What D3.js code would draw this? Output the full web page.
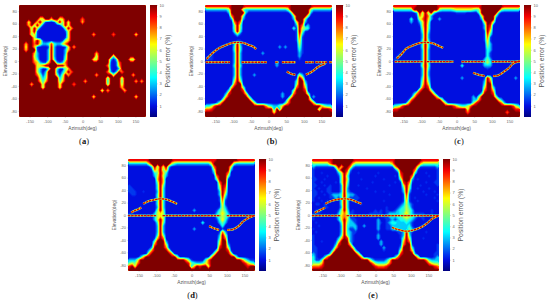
<!DOCTYPE html>
<html><head><meta charset="utf-8">
<script src="https://cdn.jsdelivr.net/npm/d3@7"></script>
<style>html,body{margin:0;background:#fff}svg{display:block}</style>
</head><body><svg id="c" width="550" height="302"></svg>
<script>
// Position error (%) by elevation row (+87.5 to -87.5 deg, 5 deg steps) and azimuth column (-176 to +176 deg, 8 deg steps). 'a' = 10, '2' = about 1.6.
const B="aaaaa aaaaa aaaaa aaaaa aaaaa aaaaa aaaaa aaaaa aaaaa";
const panelA=[B,B,B,B,
"aaaaa aa66a a7aa6 7aaaa aa8aa aaaaa aaaaa aaaaa aaaaa",
"aaa6a a7a62 1126a 5a6aa aa7aa aaaaa aaaaa aaaaa aaaaa",
"aaa7a 5a621 11112 5a6aa aaaaa aaaaa aaaaa aaaaa aaaaa",
"aaaa5 a6211 11111 15a7a aaaaa aaaaa aaaaa aaaaa aaaaa",
"aaaa6 a2111 11111 126aa aaaaa aaaaa aaaaa aaaaa aaaaa",
"aaaa5 72111 11111 116aa aaaaa a7aaa aaa8a aaaaa a6aaa",
"aaaaa 62111 11111 126aa aaaaa aaaaa aaaaa aaaaa aaaaa",
"aaaaa 7a721 11111 267aa aaaaa aaaaa aaaaa aaaaa aaaaa",
"aa7aa 8a633 49433 68aaa aaaaa aaaaa aaaaa aaaaa aaaaa",
"aa6aa 72111 2a311 126a7 aaaaa aaaaa aaaaa aaaaa aaaaa",
"aa7aa a2111 3a311 137aa aaaaa aaaaa aaaaa aaaaa aaaaa",
"aaaaa 73111 3a311 13aaa aaaaa aa7aa aaaaa aaaaa aaaaa",
"aaaaa 63111 3a311 14aaa aaaaa aa5aa aaa4a aaaaa aaaaa",
"aaaaa 74111 3a411 15aaa aaaaa a66aa aa313 aaaa6 5aaaa",
"aaaaa 87322 7aa32 38aaa aaaaa aaaaa aa212 8aaaa aaaaa",
"aaaaa a678a aaaaa a7aaa aaaaa aaaaa a8212 7aaaa aaaaa",
"aaaaa a6311 4aa41 157aa aaaaa aaaaa aa211 3aaaa aaaaa",
"aaaaa a6313 aaa31 36a8a aaaaa aaaaa a8313 a8aaa aaaaa",
"aaaaa a8524 aaa52 5a7aa aaaaa aa7aa aaa5a aaaaa 7aaaa",
"aaaaa aa635 aaaa3 6aaaa aaaaa aaaaa a4aaa a5aaa aaaaa",
"aaaaa aa747 aaaa4 7aaaa aaa7a aaaaa a3aaa a4aaa a7a7a",
"aaaa7 aaa5a aaaa6 aaaa8 aaaaa aaaaa a4aaa a5aaa aaaaa",
"aaaaa aaa5a aaaa6 aaaaa aaaaa aaaaa aaaaa a7aaa aaaaa",
"aaaaa aaaaa aaaaa aaaaa aaaaa aaaa5 a7aaa aa7aa aaaaa",
B,
"aaaaa aaaaa aaaaa aaaaa aaaaa a6aaa aaaaa aaaaa a6aaa",
B,B,B,B,B,B];
const panelB=[
"99999 9999a aaaa9 99999 99999 99999 aaaaa aaa99 99999",
"33333 3335a aaa53 33333 33333 33335 aaaaa aa533 33333",
"11111 1113a aaaa3 11111 11111 11111 4aaaa aa311 11111",
"11111 11118 aaa51 11111 11111 11111 15aaa a5111 11111",
"11111 11113 aaa31 11111 11111 11111 13aaa 51111 11111",
"11111 11111 8a811 11111 11111 11111 116aa 31111 11111",
"11111 11111 5a511 11111 11111 11111 113a8 13111 11111",
"11111 11111 5a511 11111 11111 11111 142a6 54111 11111",
"11111 11111 4a411 11111 11111 11111 112a5 21111 11111",
"11111 11111 24211 11111 11111 11111 11293 11111 11111",
"11111 11111 11111 11111 11111 11111 11282 11111 11111",
"11111 11111 12211 11111 11111 11111 11272 11111 11111",
"11111 11111 3a311 11111 11111 11111 11162 11111 11111",
"11111 11111 4a411 11111 11111 13131 11152 11111 11111",
"11111 11111 4a411 11111 11111 11111 11142 11111 11111",
"11211 11111 3a311 11111 31111 11111 11132 11111 11111",
"12211 11111 3a311 11111 11111 11111 11131 11111 11111",
"22211 11111 3a311 11111 11111 11111 11121 11111 11111",
"11111 11111 3a311 11111 11111 31111 11111 11111 11111",
"11111 11111 4a411 11111 11111 31111 11111 11111 11111",
"11111 11111 3a311 11111 11111 11111 11111 11111 11111",
"11111 11111 3a311 11111 11111 11111 11111 11111 11111",
"11111 11111 3a311 11311 11111 11111 11163 11111 11111",
"11111 11111 4a411 11111 11111 11111 112a7 11111 11111",
"11111 11111 6a611 11111 11111 11111 114aa 31111 11111",
"11111 11112 8aa21 11111 11111 11111 115aa 51111 11111",
"11111 11117 aaa51 11111 11111 11111 118aa 71111 11111",
"11111 1114a aaa92 11111 11111 11111 15aaa 91111 11111",
"11111 1139a aaaa7 11111 11111 11311 18aaa a5111 11111",
"11111 127aa aaaaa 51111 11111 11311 6aaaa aa131 11111",
"11111 16aaa aaaaa a5111 11111 11116 aaaaa aa611 11111",
"11113 7aaaa aaaaa aa621 11111 11148 aaaaa aaa72 11111",
"4469a aaaaa aaaaa aaaaa a8543 357aa aaaaa aaaaa a7544",
"889aa aaaaa aaaaa aaaaa aaaa3 a3aaa aaaaa aaaaa 4aaa9",
"aaaaa aaaaa aaaaa aaaaa aaaa6 aaaaa aaaaa aaaaa aaaaa",
B];
const panelC=[
"99999 999aa aaaaa a9999 99999 99999 9aaaa aaaa9 99999",
"44444 44aaa aaaaa a5444 45666 66654 5aaaa aaa54 44444",
"11111 1113a 5a5a4 21111 11222 21111 4aaaa aa311 11111",
"11111 11128 6a831 11111 11111 11111 16aaa a4111 11111",
"11111 14116 8a731 13111 11111 11111 13aaa a2111 11111",
"11111 13113 6a611 11111 11111 11111 116aa 61111 11111",
"11111 11112 6a511 11111 11111 11111 113a9 21111 11111",
"11111 11111 5a511 11111 11111 11111 113a8 11111 11111",
"11111 11111 4a411 11111 11111 11111 112a6 11111 11111",
"11111 11111 3a311 11111 11111 11111 11294 11111 11111",
"11111 11111 3a311 11111 11111 11111 11282 11111 11111",
"11111 11111 4a411 11111 11111 11111 11272 11111 11111",
"11111 11111 4a411 11111 11111 11111 11163 11111 11111",
"11111 11111 4a411 11111 11111 11111 11153 11111 11111",
"11111 11111 3a311 11111 11111 11111 11143 11111 11111",
"11211 11111 3a311 11111 11111 11111 11142 11111 11111",
"12211 11111 3a311 11111 11111 11111 11142 11111 11111",
"22111 11111 3a311 11111 11111 11111 11353 11111 11111",
"11111 11111 4a411 11111 11111 11111 11464 11111 11111",
"11111 11111 5a511 11111 11114 11111 11333 11111 11111",
"11111 11111 3a411 11111 11111 11111 11121 11111 11111",
"11111 11111 3a311 11111 11111 11111 11111 11111 11111",
"11111 11111 3a311 11111 11111 11111 11111 11111 11111",
"11111 11111 4a411 11111 11113 11111 112a6 11111 11131",
"11111 11111 5a511 11111 11111 11111 113a8 11111 11111",
"11111 11111 6a711 11111 11111 11111 114aa 21111 11111",
"11111 11112 8a921 11111 11111 11111 116aa 41111 11111",
"11111 11118 aaa61 11111 11111 11111 118aa 71111 11111",
"11111 1138a aaaa6 11111 11111 11111 14aaa 92111 11111",
"11111 127aa aaaaa 72111 11111 11131 5aaaa a5111 11111",
"11111 28aaa aaaaa aa511 11111 11133 8aaaa aa631 11111",
"11112 7aaaa aaaaa aaa62 11111 11159 aaaaa aaa83 11111",
"4569a aaaaa aaaaa aaaaa a9754 468aa aaaaa aaaaa aa964",
"99aaa aaaaa aaaaa aaaaa aaaaa a6aaa aaaaa aaaaa aaa99",
"aaaaa aaaaa aaaaa aaaaa aaaaa a8aaa aaaaa aaaaa 8aaaa",
B];
const panelD=[
"99999 99aaa aaaaa a9999 99999 99999 9aaaa aaaa9 99999",
"33333 337aa aaaaa 64333 33333 33336 aaaaa aa533 33333",
"11111 1114a 5a6a3 11111 11111 11112 8aaaa a6111 11111",
"11111 11128 6a582 11111 11111 11111 5aaaa a3111 11111",
"11111 11114 5a741 11111 11111 11111 3aaaa 81111 11111",
"11111 11113 6a631 11111 11111 11111 18aaa 51111 11111",
"11111 11111 7a711 11111 11111 11111 15aaa 21111 11111",
"11111 11111 5a711 11111 11111 11111 118aa 11111 11111",
"21111 11111 4a511 11111 11111 11111 116a9 11111 11111",
"22111 11111 4a411 11111 11111 11111 115a8 11111 11111",
"22211 21111 3a411 11111 11111 11111 113a7 11111 11111",
"12211 11111 4a411 11111 11111 11111 113a5 11111 11111",
"11111 11111 4a411 11111 11111 11111 11293 11111 11111",
"11111 11111 4a411 11111 11111 11111 11282 11111 11111",
"11111 11111 4a411 11111 11111 11111 11172 11111 11111",
"11112 11111 3a411 11111 11111 11111 11263 11111 11111",
"11221 11111 5a511 11111 11131 11111 12464 21111 11111",
"22111 11113 67611 11111 11111 11111 13575 31111 11111",
"11111 11113 67611 11111 11111 11111 13565 31111 11111",
"11111 11113 6a611 11111 11111 11111 12474 21111 11111",
"11111 11111 4a511 11111 11111 14111 11353 11111 11111",
"11111 11111 3a311 11111 11111 11111 11141 11111 11111",
"11111 11111 3a311 11111 11131 11111 11121 11111 11111",
"11111 11111 3a311 11111 11111 11111 11283 11111 11111",
"11111 11111 4a511 11111 11111 11111 113a6 11111 11111",
"11111 11112 7a811 11111 11111 11111 114a8 11111 11111",
"11111 11115 aaa31 11111 11111 11111 116aa 21111 11111",
"11111 11118 aaa61 11111 11111 11111 117aa 31111 11111",
"11111 1113a aaa82 11111 11111 11111 119aa 61111 11111",
"11111 1138a aaaa7 11111 11111 11111 15aaa 92111 11111",
"11111 128aa aaaaa 82111 11111 11111 5aaaa a7111 11111",
"11113 7aaaa aaaaa aa511 11111 11116 aaaaa aaa41 11111",
"3336a aaaaa aaaaa aaaaa 85211 1148a aaaaa aaaaa 85322",
"5658a aaaaa aaaaa aaaaa a9543 3468a aaaaa aaaaa a9754",
"9a6aa aaaaa aaaaa aaaaa aa37a 9aa6a aaaaa aaaaa aa9aa",
B];
const panelE=[
"99999 99aaa aaaaa 99999 99999 9999a aaaaa aaaa9 99999",
"55555 58aaa aaaa7 55555 55555 5557a aaaaa aaa75 55555",
"32222 2226a 7aa83 22222 22222 22227 aaaaa aa622 22223",
"21111 11127 aa931 11111 11111 11112 5aaaa a8211 11112",
"21121 11113 6a721 12111 11121 11111 29aaa a4111 21112",
"21111 21112 5a511 11111 11211 11112 18aaa 81111 12112",
"22112 11111 5a611 11211 11111 21111 15aaa 31211 11112",
"21121 11121 5a511 11111 12111 11112 129a8 21111 21122",
"22112 12111 3a411 12111 11111 11211 116a6 11121 11112",
"21211 22111 3a311 11112 11111 11111 114a5 11211 12111",
"22121 22111 3a321 11111 11211 21111 113a3 11112 11121",
"22112 12333 4a433 21111 11111 11211 11292 11111 21112",
"21211 12232 4a422 22111 11111 11111 11282 12111 11121",
"21121 21111 4a412 21111 11111 21111 11272 11211 11112",
"12212 11111 4a411 11211 11111 11111 12363 21111 11111",
"11112 21111 3a411 11111 11111 12111 23464 21111 11111",
"12221 11112 5a512 11111 11212 12112 34465 31111 11211",
"22211 11113 68622 11111 22222 12333 34575 32222 11211",
"21111 11113 78722 11211 22212 22333 44676 43222 11212",
"21111 11113 6a632 21111 11131 12232 34454 32112 11111",
"12111 11111 4a533 21111 11132 12344 33343 21111 11111",
"11211 11111 3a433 31131 11131 12233 33334 21111 11111",
"21111 11111 3a422 31111 11131 12233 33335 32211 11111",
"12111 11111 3a432 21111 11121 11111 223a3 21111 21111",
"21111 11111 4a532 11111 11131 11111 123a4 11111 11111",
"21111 11113 7a932 11111 11131 11111 125a6 11112 11111",
"21121 11126 aaa32 11111 11113 11111 117a8 11111 11111",
"21111 11139 aaa71 11111 11113 11111 128aa 21111 11112",
"22111 1127a aaaa6 11111 11111 31111 13aaa 41111 11112",
"22111 115aa aaaaa 41111 11111 21111 16aaa 71111 11112",
"32111 14aaa aaaaa a6111 11111 11111 29aaa a3111 11122",
"42113 8aaaa aaaaa aa711 11111 11113 8aaaa aa611 11123",
"4224a aaaaa aaaaa aaaaa 63222 236aa aaaaa aaaaa 84333",
"5557a aaaaa aaaaa aaaaa a8544 458aa aaaaa aaaaa a8655",
"8889a aaaaa aaaaa aaaaa aa988 89aaa aaaaa aaaaa aaa98",
B];
// Thin high-error ridges as [azimuth, elevation] polylines.
const ridgesA=[];
const ridgesB=[
 [[-175,3],[-169,7],[-156,14],[-142,20],[-123,25],[-104,29],[-88,30],[-71,29],[-57,26],[-43,23],[-35,19]],
 [[-178,-2],[-109,-2]],[[-76,-2],[-5,-2]],[[19,-2],[28,-2]],[[38,-2],[76,-2]],[[104,-2],[128,-2]],[[133,-2],[166,-2]],[[172,-2],[180,-2]],
 [[52,-17],[66,-21],[76,-22]],[[106,-22],[123,-17],[142,-9],[161,-4]]];
const ridgesC=[
 [[-169,4],[-158,10],[-150,15],[-142,20],[-123,25],[-104,29],[-88,30],[-71,29],[-57,26],[-38,21]],
 [[-175,-1],[-96,-1]],[[-84,-1],[-8,-1]],[[14,-1],[80,-1]],[[100,-1],[180,-1]],
 [[47,-19],[62,-22],[80,-24]],[[104,-24],[118,-23],[137,-16],[149,-11],[161,-4],[180,0]]];
const ridgesD=[
 [[-171,4],[-161,7],[-152,9],[-142,12]],
 [[-137,18],[-123,22],[-109,24],[-90,26],[-71,25],[-57,22],[-41,18]],
 [[-180,-1],[-100,-1]],[[-82,-1],[82,-1]],[[100,-1],[180,-1]],
 [[50,-18],[62,-21],[78,-24]],[[101,-24],[118,-23],[133,-18],[147,-10],[161,-5],[177,-1]]];
const ridgesE=[
 [[-172,4],[-160,7],[-150,10],[-142,12]],
 [[-142,18],[-128,22],[-109,25],[-90,26],[-71,25],[-57,22],[-40,18]],
 [[-180,-1],[-98,-1]],[[-82,-1],[180,-1]],
 [[47,-20],[62,-23],[85,-26],[109,-24],[128,-20],[147,-13],[161,-6],[180,-1]]];
const azimuthTicks=[-150,-100,-50,0,50,100,150];
const elevationTicks=[80,60,40,20,0,-20,-40,-60,-80];
const colorbarTicks=[1,2,3,4,5,6,7,8,9,10];
const panelNames=["a","b","c","d","e"];
const panelGrids=[panelA,panelB,panelC,panelD,panelE];
const panelRidges=[ridgesA,ridgesB,ridgesC,ridgesD,ridgesE];

const panelLayout=[{x:19,y:5,lab:65},{x:205,y:5,lab:67},{x:393,y:5,lab:66},{x:128,y:159,lab:64.5},{x:312,y:159,lab:61}];
const W=127,H=112,COLS=45,ROWS=36;
const SANS='"Liberation Sans",Arial,sans-serif';
const jet=d3.scaleLinear().domain([0,1.1,3.5,6.5,8.9,10])
  .range(["#00007f","#0010ea","#00ffff","#ffff00","#ff0000","#7f0000"]).clamp(true);
const levels=d3.range(0.25,10.01,0.25);
const svg=d3.select("#c");
const defs=svg.append("defs");
defs.append("filter").attr("id","soft").attr("x","-5%").attr("y","-5%").attr("width","110%").attr("height","110%")
  .attr("color-interpolation-filters","sRGB")
  .append("feGaussianBlur").attr("stdDeviation",0.35);
const grad=defs.append("linearGradient").attr("id","jetbar").attr("x1",0).attr("x2",0).attr("y1",1).attr("y2",0);
d3.range(0,10.01,0.5).forEach(v=>grad.append("stop").attr("offset",v/10).attr("stop-color",jet(v)));

panelGrids.forEach((rows,idx)=>{
  const pos=panelLayout[idx];
  if(rows.length!==ROWS) throw new Error("rows "+panelNames[idx]+" "+rows.length);
  const values=[];
  rows.forEach((r,j)=>{
    const s=r.replace(/ /g,"");
    if(s.length!==COLS) throw new Error("len "+panelNames[idx]+" "+j+" "+s.length);
    for(const ch of s) values.push(ch==="a"?10:ch==="2"?1.6:+ch);
  });
  const x=d3.scaleLinear().domain([-180,180]).range([0,W]);
  const y=d3.scaleLinear().domain([-90,90]).range([H,0]);
  const cell=d3.scaleLinear().domain([0,COLS]).range([-180,180]);
  const rowS=d3.scaleLinear().domain([0,ROWS]).range([90,-90]);
  const proj=d3.geoTransform({point(px,py){this.stream.point(x(cell(px)),y(rowS(py)));}});
  const path=d3.geoPath(proj);
  const g=svg.append("g").attr("transform",`translate(${pos.x},${pos.y})`);
  const clipId="clip"+idx;
  defs.append("clipPath").attr("id",clipId).append("rect").attr("width",W).attr("height",H);
  const clip=g.append("g").attr("clip-path",`url(#${clipId})`);
  const heat=clip.append("g").attr("filter","url(#soft)");
  heat.append("rect").attr("x",-3).attr("y",-3).attr("width",W+6).attr("height",H+6).attr("fill",jet(1));
  const contours=d3.contours().size([COLS,ROWS]).thresholds(levels)(values);
  heat.selectAll("path.lvl").data(contours).join("path").attr("class","lvl")
    .attr("d",path).attr("fill",d=>jet(d.value));
  const ridgeLine=d3.line().x(d=>x(d[0])).y(d=>y(d[1])).curve(d3.curveCatmullRom);
  [{c:jet(3.6),w:2.5,d:null,o:0.55},{c:jet(6.4),w:1.9,d:"3.2 0.6",o:1},{c:jet(9.2),w:1.35,d:"2.5 0.7",o:1}].forEach(st=>{
    heat.append("g").selectAll("path").data(panelRidges[idx]).join("path")
      .attr("d",ridgeLine).attr("fill","none").attr("stroke",st.c).attr("stroke-width",st.w)
      .attr("stroke-dasharray",st.d).attr("stroke-opacity",st.o);
  });

  const styleAxis=a=>{
    a.select(".domain").remove();
    a.selectAll("line").attr("stroke","#999").attr("stroke-width",0.3);
    a.selectAll("text").attr("fill","#666").attr("font-size",4).attr("font-family",SANS);
  };
  g.append("g").attr("transform",`translate(0,${H})`)
    .call(d3.axisBottom(x).tickValues(azimuthTicks).tickSize(1).tickPadding(2).tickFormat(d=>String(d)))
    .call(styleAxis);
  g.append("g")
    .call(d3.axisLeft(y).tickValues(elevationTicks).tickSize(1).tickPadding(1).tickFormat(d=>String(d)))
    .call(styleAxis);
  g.append("text").attr("x",W/2).attr("y",H+12.5).attr("text-anchor","middle")
    .attr("font-size",4.8).attr("font-family",SANS).attr("fill","#555").text("Azimuth(deg)");
  g.append("text").attr("transform",`translate(-12,${H/2}) rotate(-90)`).attr("text-anchor","middle")
    .attr("font-size",4.8).attr("font-family",SANS).attr("fill","#555").text("Elevation(deg)");
  // colorbar
  const cb=d3.scaleLinear().domain([0,10]).range([H,0]);
  const bar=g.append("g").attr("transform",`translate(${W+4},0)`);
  bar.append("rect").attr("width",7).attr("height",H).attr("fill","url(#jetbar)");
  bar.append("g").attr("transform","translate(7,0)")
    .call(d3.axisRight(cb).tickValues(colorbarTicks).tickSize(1).tickPadding(1.5).tickFormat(d3.format("d")))
    .call(styleAxis);
  g.append("text").attr("transform",`translate(${W+23.5},${H/2}) rotate(-90)`).attr("text-anchor","middle")
    .attr("font-size",6.8).attr("font-family",SANS).attr("fill","#555").text("Position error (%)");
  // panel letter
  const lab=g.append("text").attr("x",pos.lab).attr("y",H+26.5).attr("text-anchor","middle")
    .attr("font-size",8.5).attr("font-family",'"Liberation Serif","Times New Roman",serif').attr("fill","#111");
  lab.append("tspan").text("(");
  lab.append("tspan").attr("font-weight","bold").text(panelNames[idx]);
  lab.append("tspan").text(")");
});
</script></body></html>
